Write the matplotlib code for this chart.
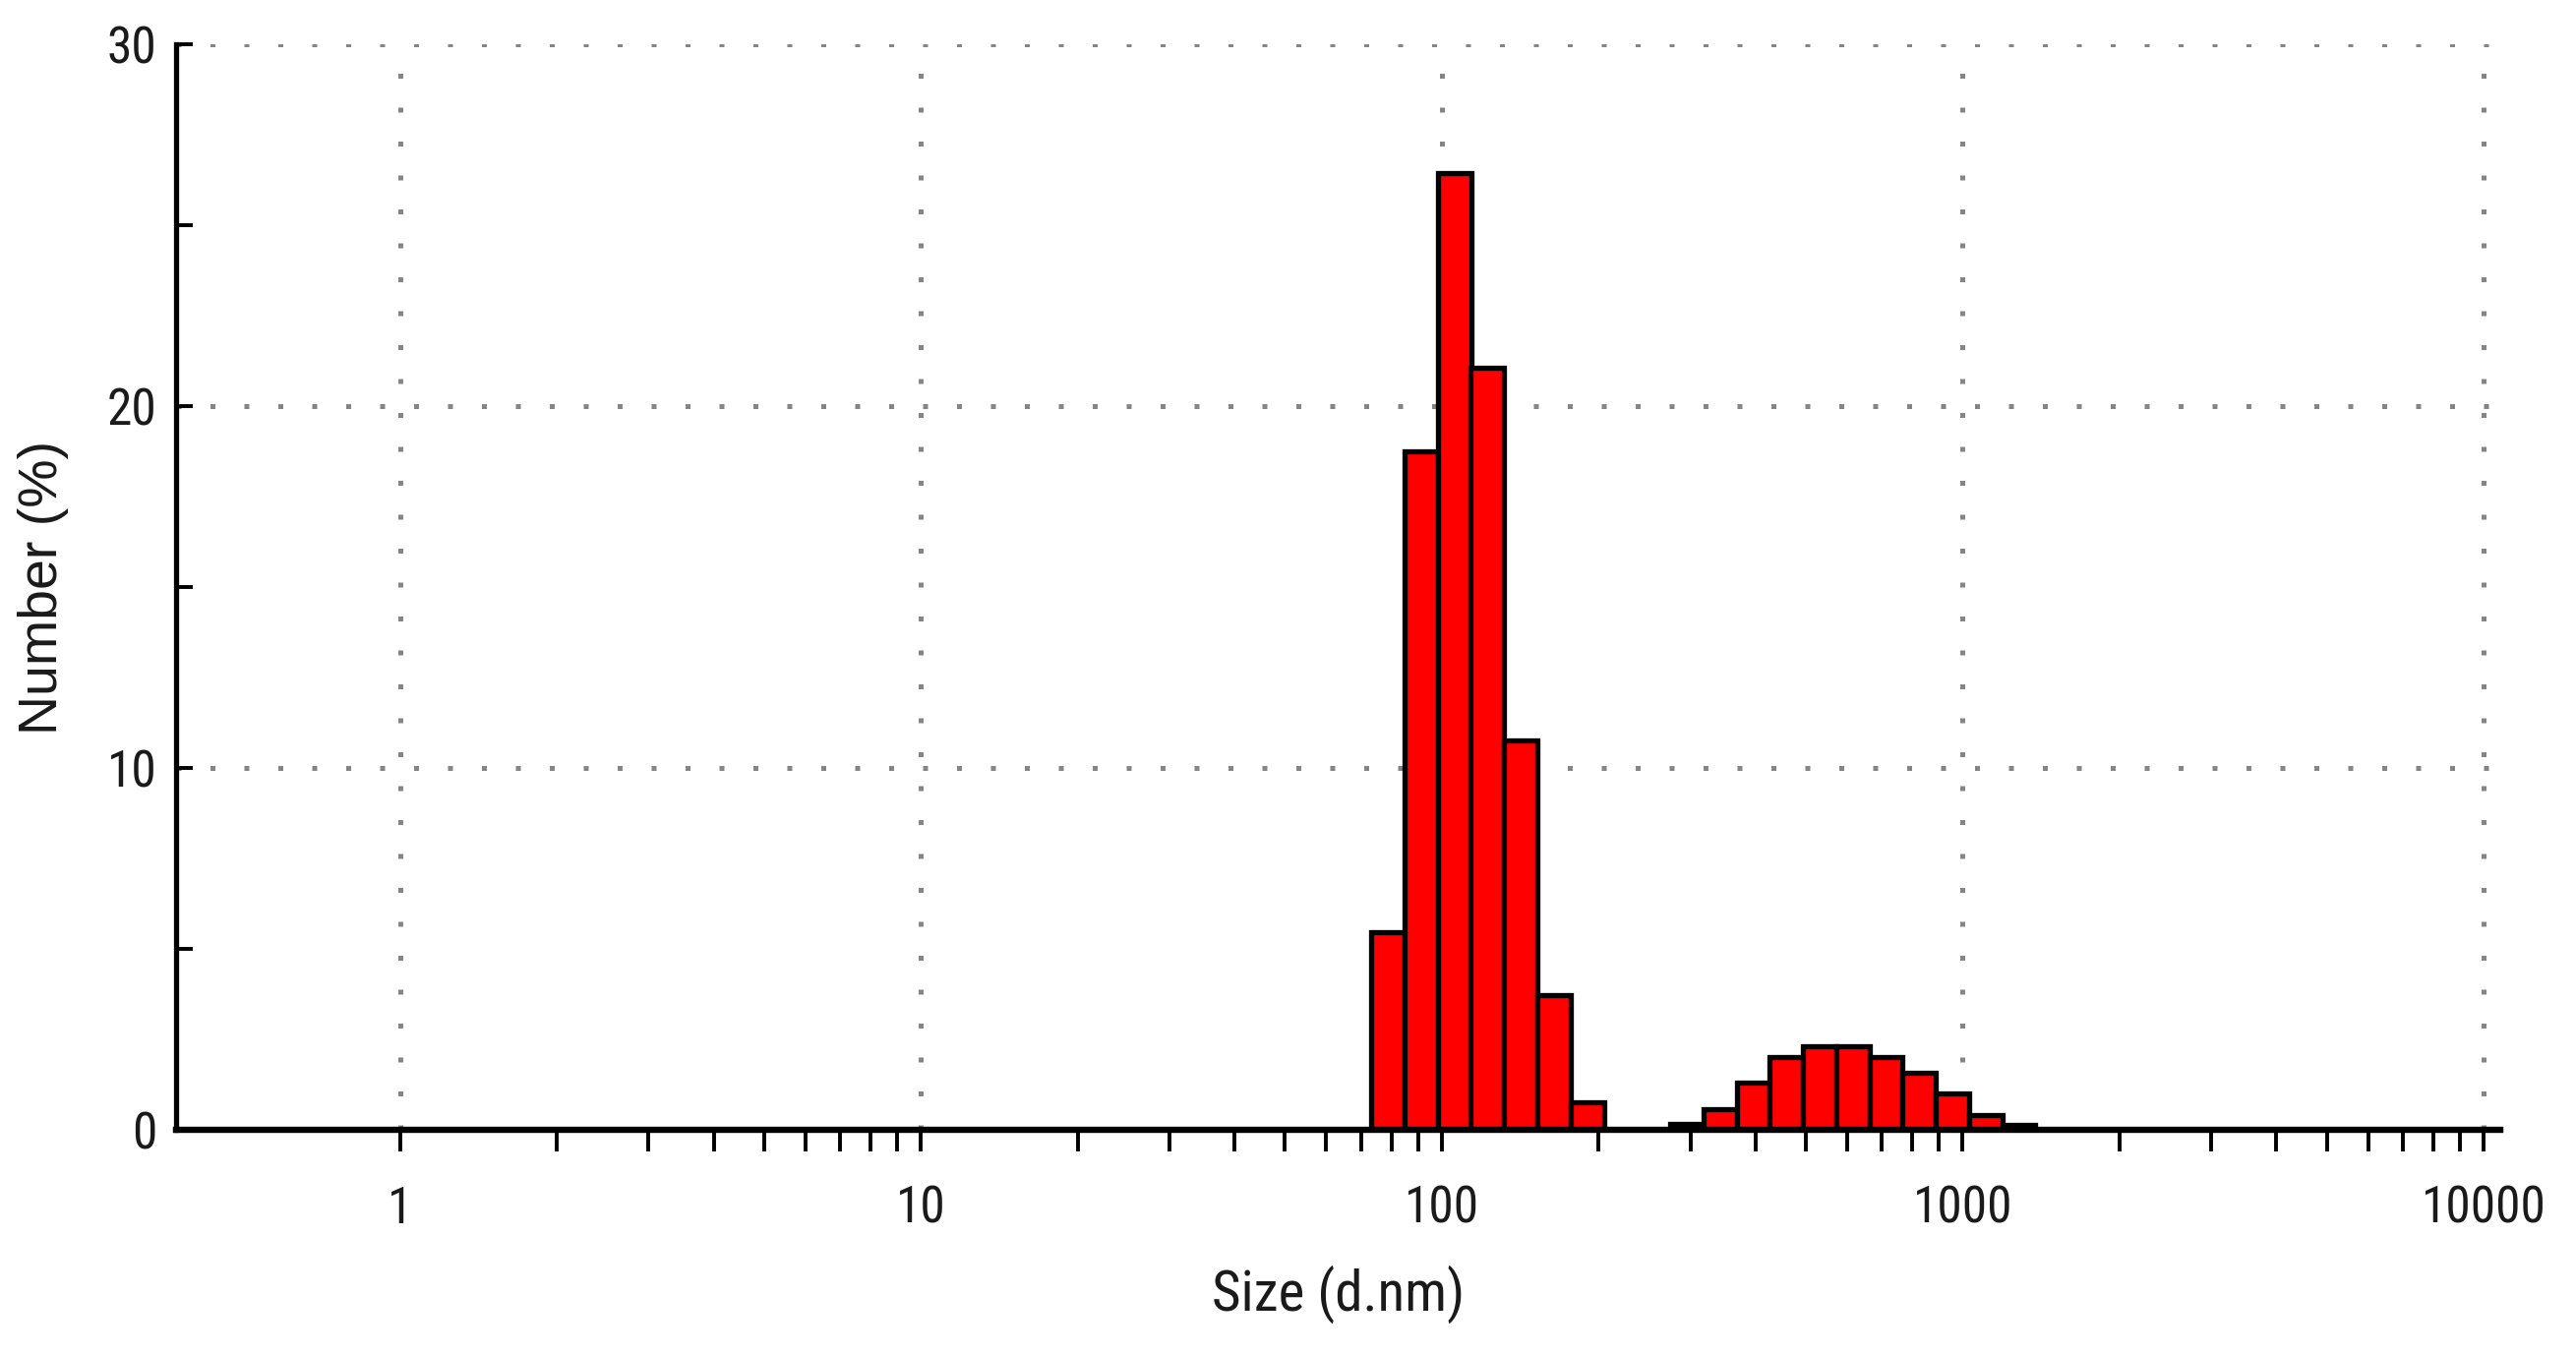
import matplotlib
matplotlib.use("Agg")
import matplotlib.pyplot as plt
from matplotlib import font_manager as fm
from matplotlib.ticker import FixedLocator, NullFormatter, FixedFormatter

# ---- data ----
size_classes = [78.82, 91.28, 105.7, 122.4, 141.8, 164.2, 190.1,
                295.3, 342.0, 396.1, 458.7, 531.2, 615.1, 712.4, 825.0, 955.4, 1106, 1281]
number_pct = [5.45, 18.75, 26.45, 21.05, 10.75, 3.72, 0.76,
              0.15, 0.57, 1.3, 2.0, 2.3, 2.3, 2.0, 1.58, 1.0, 0.42, 0.13]
x_major = [1, 10, 100, 1000, 10000]
x_major_labels = ["1", "10", "100", "1000", "10000"]
y_major = [0, 10, 20, 30]
y_minor = [5, 15, 25]
bin_ratio = 1.1581  # ratio between neighbouring size classes

# ---- fonts ----
names = {f.name for f in fm.fontManager.ttflist}
if "Liberation Sans Narrow" in names:
    narrow = "Liberation Sans Narrow"
elif "Roboto Condensed" in names:
    narrow = "Roboto Condensed"
else:
    narrow = "Liberation Sans"
tick_fp = fm.FontProperties(family=narrow, size=37 if narrow != "Liberation Sans" else 35)
xlab_fp = fm.FontProperties(family=narrow, size=41 if narrow != "Liberation Sans" else 37)
ylab_fp = fm.FontProperties(family="Liberation Sans", size=40)
text_color = "#1a1a1a"

W, H = 2619, 1377
fig = plt.figure(figsize=(W / 100, H / 100), dpi=100)
L, R, T, B = 179, 2542, 45, 1149
ax = fig.add_axes([L / W, 1 - B / H, (R - L) / W, (B - T) / H])

half = bin_ratio ** 0.5
lefts = [c / half for c in size_classes]
widths = [c * half - c / half for c in size_classes]
ax.bar(lefts, number_pct, width=widths, align="edge", color="#ff0000",
       edgecolor="black", linewidth=3.8, zorder=3)

ax.set_xscale("log")
ax.set_xlim(0.4 / half, 10000 * half)
ax.set_ylim(0, 30)

# ticks
minor_x = [m * d for d in x_major[:-1] for m in range(2, 10)]
ax.xaxis.set_major_locator(FixedLocator(x_major))
ax.xaxis.set_major_formatter(FixedFormatter(x_major_labels))
ax.xaxis.set_minor_locator(FixedLocator(minor_x))
ax.xaxis.set_minor_formatter(NullFormatter())
ax.yaxis.set_major_locator(FixedLocator(y_major))
ax.yaxis.set_minor_locator(FixedLocator(y_minor))

ax.tick_params(axis="x", which="both", direction="out", length=16, width=2.8,
               color="black", pad=24)
ax.tick_params(axis="y", which="both", direction="in", length=12, width=2.8,
               color="black", pad=14)
for lab in ax.get_xticklabels():
    lab.set_fontproperties(tick_fp)
    lab.set_color(text_color)
for lab in ax.get_yticklabels():
    lab.set_fontproperties(tick_fp)
    lab.set_color(text_color)

# spines
for s in ("top", "right"):
    ax.spines[s].set_visible(False)
ax.spines["left"].set_linewidth(3.8)
ax.spines["bottom"].set_linewidth(4.6)
ax.spines["left"].set_zorder(4)
ax.spines["bottom"].set_zorder(4)

# dotted grid
ax.grid(True, which="major", axis="both", color="#858585",
        linestyle=(0, (1, 5.9)), linewidth=3.6, zorder=1)
ax.set_axisbelow(True)

ax.set_xlabel("Size (d.nm)", fontproperties=xlab_fp, color=text_color)
ax.set_ylabel("Number (%)", fontproperties=ylab_fp, color=text_color)
ax.xaxis.set_label_coords(0.5, -(1287 - B) / (B - T))
ax.yaxis.set_label_coords(-(L - 70) / (R - L), 0.5)

fig.savefig("out.png", dpi=100, facecolor="white")
